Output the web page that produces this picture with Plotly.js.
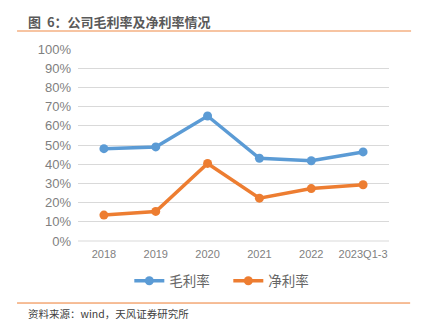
<!DOCTYPE html>
<html><head><meta charset="utf-8">
<script src="https://cdn.plot.ly/plotly-3.0.1.min.js"></script>
<style>html,body{margin:0;padding:0;background:#fff;}#chart{width:421px;height:332px;}</style>
</head><body><div id="chart"></div>
<script>
const categories = ["2018", "2019", "2020", "2021", "2022", "2023Q1-3"];
const grossMargin = [0.481, 0.490, 0.651, 0.431, 0.418, 0.464];
const netMargin = [0.135, 0.154, 0.404, 0.223, 0.273, 0.293];
const seriesNames = ["毛利率", "净利率"];
const titleText = "图 6：公司毛利率及净利率情况";
const sourceText = "资料来源：wind，天风证券研究所";

const FONT = "Liberation Sans, Arial, Noto Sans CJK SC, sans-serif";
const CJK = "Noto Sans CJK SC, sans-serif";

const traces = [
  {x: categories, y: grossMargin, name: seriesNames[0], type: "scatter", mode: "lines+markers",
   line: {color: "#5B9BD5", width: 3.5}, marker: {color: "#5B9BD5", size: 9}},
  {x: categories, y: netMargin, name: seriesNames[1], type: "scatter", mode: "lines+markers",
   line: {color: "#ED7D31", width: 3.5}, marker: {color: "#ED7D31", size: 9}}
];

const layout = {
  width: 421, height: 332,
  margin: {l: 78, r: 32, t: 49, b: 91},
  paper_bgcolor: "#fff", plot_bgcolor: "#fff",
  showlegend: true,
  legend: {orientation: "h", x: 0.165, xanchor: "left", y: -0.208, yanchor: "middle",
           entrywidth: 54, entrywidthmode: "pixels",
           font: {family: CJK, size: 13.5, color: "#666"}, tracegroupgap: 0},
  xaxis: {type: "category", range: [-0.5, 5.5], showgrid: false, zeroline: false, showline: false,
          ticks: "", ticklabelstandoff: 5, tickfont: {family: FONT, size: 11, color: "#7f7f7f"}, fixedrange: true},
  yaxis: {range: [0, 1], dtick: 0.1, tickformat: ".0%", showgrid: true, gridcolor: "#D9D9D9", gridwidth: 1,
          zeroline: false, showline: false, ticks: "", ticklabelstandoff: 6,
          tickfont: {family: FONT, size: 13, color: "#7f7f7f"}, fixedrange: true},
  shapes: [
    {type: "line", xref: "paper", yref: "paper", x0: -0.196, x1: 1.071, y0: 1.094, y1: 1.094,
     line: {color: "#F4B183", width: 1.5}},
    {type: "line", xref: "paper", yref: "paper", x0: 0, x1: 1, y0: 0, y1: 0,
     line: {color: "#D9D9D9", width: 1}},
    {type: "line", xref: "paper", yref: "paper", x0: -0.196, x1: 1.068, y0: -0.323, y1: -0.323,
     line: {color: "#ED7D31", width: 1}}
  ],
  annotations: [
    {text: "<b>" + titleText.replace(" ", "&nbsp;&nbsp;") + "</b>", xref: "paper", yref: "paper", x: -0.167, y: 1.145,
     xanchor: "left", yanchor: "middle", showarrow: false, font: {family: CJK, size: 13, color: "#595959"}},
    {text: sourceText, xref: "paper", yref: "paper", x: -0.167, y: -0.38,
     xanchor: "left", yanchor: "middle", showarrow: false, font: {family: CJK, size: 10.5, color: "#404040"}}
  ]
};
Plotly.newPlot("chart", traces, layout, {displayModeBar: false, staticPlot: true});
</script></body></html>
